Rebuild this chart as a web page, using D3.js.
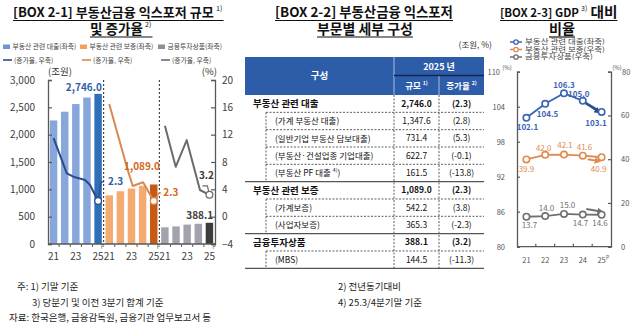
<!DOCTYPE html>
<html><head><meta charset="utf-8">
<script src="https://cdn.jsdelivr.net/npm/d3@7"></script>
<style>
html,body{margin:0;padding:0;background:#fff;}
svg{display:block;font-family:"Noto Sans CJK KR","Noto Sans",sans-serif;}
</style></head><body>
<svg id="c" width="640" height="325"></svg>
<script>
// ---------------- data ----------------
const years = ["21","22","23","24","25"];
const yearTickLabels = ["21","","23","","25"];
const loanValues = [2260, 2420, 2560, 2680, 2746.0];
const guaranteeValues = [890, 965, 1015, 1065, 1089.0];
const investValues = [305, 322, 355, 370, 388.1];
const loanGrowthT = [21, 22.19, 22.78, 23.83, 24.28, 25];
const loanGrowth = [11.5, 6.35, 5.85, 5.37, 4.64, 2.3];
const guaranteeGrowthT = [21, 22.66, 23.11, 24.04, 25];
const guaranteeGrowth = [16.5, 6.83, 4.49, 5.03, 2.3];
const investGrowthT = [21, 21.97, 22.96, 24.15, 25];
const investGrowth = [13.3, 7.3, 11.2, 3.9, 3.2];
const leftTicks1 = [0, 500, 1000, 1500, 2000, 2500, 3000];
const rightTicks1 = [-4, 0, 4, 8, 12, 16, 20];

const tableLabels = ["부동산 관련 대출","(가계 부동산 대출)","(일반기업 부동산 담보대출)","(부동산·건설업종 기업대출)","(부동산 PF 대출 ^4)^)","부동산 관련 보증","(가계보증)","(사업자보증)","금융투자상품","(MBS)"];
const tableLevel = [0,1,1,1,1,0,1,1,0,1];
const tableSize = ["2,746.0","1,347.6","731.4","622.7","161.5","1,089.0","542.2","365.3","388.1","144.5"];
const tableGrowth = ["(2.3)","(2.8)","(5.3)","(-0.1)","(-13.8)","(2.3)","(3.8)","(-2.3)","(3.2)","(-11.3)"];

const gdpYears = ["21","22","23","24","25"];
const loanGdp = [102.1, 104.5, 106.3, 105.0, 103.1];
const guaranteeGdp = [39.9, 42.0, 42.1, 41.6, 40.9];
const investGdp = [13.7, 14.0, 15.0, 14.7, 14.6];
const leftTicks3 = [80, 86, 92, 98, 104, 110];
const rightTicks3 = [0, 20, 40, 60, 80];

// ---------------- helpers ----------------
const svg = d3.select("#c");
svg.append("rect").attr("width",640).attr("height",325).attr("fill","#fff");
const FONT = '"Noto Sans CJK KR","Noto Sans",sans-serif';

function fitW(sel, w){ sel.attr("textLength", w).attr("lengthAdjust","spacingAndGlyphs"); }
function maxFit(sel, w){ sel.each(function(){ if(this.getComputedTextLength() > w){ d3.select(this).attr("textLength", w).attr("lengthAdjust","spacingAndGlyphs"); } }); }
function sizeTo(sel, w, base){
  sel.each(function(){
    const L = this.getComputedTextLength();
    if (L > w){ d3.select(this).attr("font-size", base*w/L); }
    else { d3.select(this).attr("textLength", w).attr("lengthAdjust","spacingAndGlyphs"); }
  });
}
function rich(g, str, x, y, size, attrs){
  const t = g.append("text").attr("x",x).attr("y",y).attr("font-size",size).attr("font-family",FONT);
  Object.entries(attrs||{}).forEach(([k,v])=>t.attr(k,v));
  str.split("^").forEach((p,i)=>{ if(!p) return; const ts=t.append("tspan").text(p); if(i%2){ ts.attr("font-size",size*0.62).attr("baseline-shift","super"); } });
  return t;
}
function titleLine(x0, base, txt, w, sup, after, afterW){
  svg.append("text").attr("x",x0).attr("y",base).attr("font-size",14).attr("font-weight",700).attr("fill","#111").text(txt).call(sizeTo,w,14);
  let end = x0 + w;
  if (sup){ svg.append("text").attr("x",end+2).attr("y",base-6.5).attr("font-size",7).attr("fill","#111").text(sup); end += 2 + 7.5; }
  if (after){ svg.append("text").attr("x",end+2).attr("y",base).attr("font-size",14).attr("font-weight",700).attr("fill","#111").text(after).call(sizeTo,afterW,14); end += 2 + afterW; }
  svg.append("line").attr("x1",x0).attr("x2",end).attr("y1",base+3.5).attr("y2",base+3.5).attr("stroke","#111").attr("stroke-width",1.2);
}

// ---------------- titles ----------------
titleLine(13, 17, "[BOX 2-1] 부동산금융 익스포저 규모", 201, "1)");
titleLine(90, 33.5, "및 증가율", 53, "2)");
titleLine(275, 17, "[BOX 2-2] 부동산금융 익스포저", 178);
titleLine(317, 33.5, "부문별 세부 구성", 96);
titleLine(500, 17, "[BOX 2-3] GDP", 79, "3)", "대비", 27);
titleLine(549, 33.5, "비율", 26);

// ================= CHART 1 =================
const groups = ["loan","guar","inv"];
const gx = d3.scaleBand().domain(groups).range([48,215]);
const bx = d3.scaleBand().domain(years).range([0, gx.bandwidth()]).paddingInner(0.33).paddingOuter(0.165);
const y1L = d3.scaleLinear().domain([0,3000]).range([244,80]);
const y1R = d3.scaleLinear().domain([-4,20]).range([244,80]);
const bw = bx.bandwidth();
const series1 = [
  {key:"loan", bars:loanValues, gT:loanGrowthT, g:loanGrowth, light:"#86a6dc", dark:"#2f6fb7", line:"#2b4c8c", lab:"#2f5fa9"},
  {key:"guar", bars:guaranteeValues, gT:guaranteeGrowthT, g:guaranteeGrowth, light:"#f3ab72", dark:"#c65a12", line:"#dc8750", lab:"#d2691e"},
  {key:"inv",  bars:investValues, gT:investGrowthT, g:investGrowth, light:"#a2a3ad", dark:"#3c3c3c", line:"#6b6b6b", lab:"#3c3c3c"}
];
const c1 = svg.append("g");
series1.forEach(s=>{
  c1.selectAll(null).data(s.bars).enter().append("rect")
    .attr("x",(d,i)=>gx(s.key)+bx(years[i])).attr("width",bw)
    .attr("y",d=>y1L(d)).attr("height",d=>y1L(0)-y1L(d))
    .attr("fill",(d,i)=> i===s.bars.length-1 ? s.dark : s.light);
});
[gx("guar"), gx("inv")].forEach(x=>{
  c1.append("line").attr("x1",x).attr("x2",x).attr("y1",80).attr("y2",244).attr("stroke","#222").attr("stroke-width",1).attr("stroke-dasharray","2,2");
});
function styleAxis(g, size, col){
  g.attr("font-family",FONT).attr("font-size",size);
  g.select(".domain").attr("stroke","#595959").attr("stroke-width",1.3).attr("fill","none");
  g.selectAll(".tick line").attr("stroke","#595959").attr("stroke-width",1.2);
  g.selectAll(".tick text").attr("fill",col);
}
const aL = c1.append("g").attr("transform","translate(48,0)")
  .call(d3.axisLeft(y1L).tickValues(leftTicks1).tickFormat(d3.format(",")).tickSizeInner(-4).tickSizeOuter(-4).tickPadding(13));
styleAxis(aL, 10, "#404040");
const aR = c1.append("g").attr("transform","translate(215,0)")
  .call(d3.axisRight(y1R).tickValues(rightTicks1).tickSizeInner(-4).tickSizeOuter(-4).tickPadding(7));
styleAxis(aR, 10, "#404040");
c1.append("line").attr("x1",48).attr("x2",215).attr("y1",244).attr("y2",244).attr("stroke","#595959").attr("stroke-width",1.3);
groups.forEach(g=>{
  years.forEach((y,i)=>{
    if (i>0){ const xx = gx(g)+bx(y)-bx.step()*bx.paddingInner()/2; c1.append("line").attr("x1",xx).attr("x2",xx).attr("y1",244).attr("y2",247).attr("stroke","#595959"); }
    const lab = yearTickLabels[i];
    if (lab){
      const cx = gx(g)+bx(y)+bw/2;
      c1.append("text").attr("x",cx).attr("y",260).attr("text-anchor","middle").attr("font-size",10).attr("fill","#404040").text(lab);
      if (i===years.length-1) c1.append("text").attr("x",cx+3).attr("y",247.3).attr("font-size",5).attr("fill","#404040").text("p");
    }
  });
});
c1.append("text").attr("x",48).attr("y",75).attr("font-size",9.5).attr("fill","#333").text("(조원)");
c1.append("text").attr("x",217).attr("y",75).attr("text-anchor","end").attr("font-size",9.5).attr("fill","#333").text("(%)");

series1.forEach(s=>{
  const xT = d3.scaleLinear().domain([21,25]).range([gx(s.key)+bx("21")+bw/2, gx(s.key)+bx("25")+bw/2]);
  const pts = s.gT.map((t,i)=>[xT(t), y1R(s.g[i])]);
  c1.append("path").attr("d",d3.line()(pts)).attr("fill","none").attr("stroke",s.line).attr("stroke-width",2).attr("stroke-linejoin","round");
  s.last = pts[pts.length-1];
});
const barLab = [
  {s:0, txt:d3.format(",.1f")(loanValues[4]), dx:0, dy:-3.3},
  {s:1, txt:d3.format(",.1f")(guaranteeValues[4]), dx:2.5, dy:-14},
  {s:2, txt:d3.format(",.1f")(investValues[4]), dx:0, dy:-3.3}
];
barLab.forEach(b=>{
  const s = series1[b.s];
  const xr = gx(s.key)+bx("25")+bw;
  c1.append("text").attr("x",xr+b.dx).attr("y",y1L(s.bars[4])+b.dy).attr("text-anchor","end")
    .attr("font-size",10).attr("font-weight",700).attr("fill",s.lab).text(b.txt);
});
const gLab = [
  {s:0, txt:"2.3", leader:[[3,-19],[6,-19]], tx:10, ty:-15.5},
  {s:1, txt:"2.3", leader:[[5.5,-8],[7.5,-8]], tx:9.5, ty:-4.5},
  {s:2, txt:"3.2", leader:[[-2,-9],[-7,-9]], tx:-10.5, ty:-16}
];
gLab.forEach(g=>{
  const s = series1[g.s]; const [px,py] = s.last;
  c1.append("path").attr("d",d3.line()([[px,py]].concat(g.leader.map(d=>[px+d[0],py+d[1]])))).attr("fill","none").attr("stroke",s.line).attr("stroke-width",1.2);
  c1.append("circle").attr("cx",px).attr("cy",py).attr("r",3.4).attr("fill","#fff").attr("stroke",s.line).attr("stroke-width",1.3);
  c1.append("text").attr("x",px+g.tx).attr("y",py+g.ty).attr("font-size",10).attr("font-weight",700).attr("fill",s.lab).text(g.txt);
});
const leg1 = [
  {x:3, txt:"부동산 관련 대출(좌축)", w:66, c:"#6f95d3", lc:"#2b4c8c"},
  {x:80, txt:"부동산 관련 보증(좌축)", w:68, c:"#f0a060", lc:"#dc8750"},
  {x:158, txt:"금융투자상품(좌축)", w:58, c:"#8e8e98", lc:"#6b6b6b"}
];
leg1.forEach((l,i)=>{
  c1.append("rect").attr("x",l.x).attr("y",44.5).attr("width",7).attr("height",4.5).attr("fill",l.c);
  c1.append("text").attr("x",l.x+9.5).attr("y",49.2).attr("font-size",6.8).attr("fill","#444").text(l.txt).call(maxFit,l.w);
  const lx = [3, 82, 161][i];
  c1.append("line").attr("x1",lx).attr("x2",lx+9).attr("y1",60).attr("y2",60).attr("stroke",l.lc).attr("stroke-width",1.6);
  c1.append("text").attr("x",lx+11).attr("y",62.5).attr("font-size",6.8).attr("fill","#444").text("(증가율, 우축)").call(maxFit,46);
});

// ================= CHART 2 (table) =================
const c2 = svg.append("g");
const TX0 = 245, TX1 = 394, TX2 = 439, TX3 = 484, TTOP = 57, THB = 95;
const rowH = (268.3 - THB) / tableLabels.length;
c2.append("text").attr("x",492).attr("y",47.5).attr("text-anchor","end").attr("font-size",8.5).attr("fill","#333").text("(조원, %)");
c2.append("rect").attr("x",TX0).attr("y",TTOP).attr("width",TX3-TX0).attr("height",THB-TTOP).attr("fill","#2d5ca9");
c2.append("line").attr("x1",TX1).attr("x2",TX1).attr("y1",TTOP).attr("y2",THB).attr("stroke","#c9d6ee").attr("stroke-width",0.8);
c2.append("line").attr("x1",TX2).attr("x2",TX2).attr("y1",75.5).attr("y2",THB).attr("stroke","#c9d6ee").attr("stroke-width",0.8);
c2.append("line").attr("x1",TX1).attr("x2",TX3).attr("y1",75.5).attr("y2",75.5).attr("stroke","#14264d").attr("stroke-width",1.6);
rich(c2, "구성", (TX0+TX1)/2, 79, 9.5, {"text-anchor":"middle","fill":"#fff","font-weight":600});
rich(c2, "2025 년", (TX1+TX3)/2, 69.5, 9, {"text-anchor":"middle","fill":"#fff","font-weight":600});
rich(c2, "규모 ^1)^", (TX1+TX2)/2, 88.5, 8.5, {"text-anchor":"middle","fill":"#fff","font-weight":700});
rich(c2, "증가율 ^2)^", (TX2+TX3)/2, 88.5, 8.5, {"text-anchor":"middle","fill":"#fff","font-weight":700});
tableLabels.forEach((lab,i)=>{
  const cy = THB + rowH*(i+0.5);
  const bold = tableLevel[i]===0;
  rich(c2, lab, bold?253:275, cy+3.3, bold?9.5:8.5, {"fill":"#111","font-weight":bold?700:400});
  c2.append("text").attr("x",(TX1+TX2)/2).attr("y",cy+3.1).attr("text-anchor","middle").attr("font-size",8.5).attr("font-weight",bold?700:400).attr("fill","#111").text(tableSize[i]).call(maxFit,40);
  c2.append("text").attr("x",(TX2+TX3)/2).attr("y",cy+3.1).attr("text-anchor","middle").attr("font-size",8.5).attr("font-weight",bold?700:400).attr("fill","#111").text(tableGrowth[i]).call(maxFit,40);
  const yb = THB + rowH*(i+1);
  if (i < tableLabels.length-1){
    if (tableLevel[i+1]===0) c2.append("line").attr("x1",TX0).attr("x2",TX3).attr("y1",yb).attr("y2",yb).attr("stroke","#555").attr("stroke-width",1.2);
    else c2.append("line").attr("x1",266).attr("x2",TX3).attr("y1",yb).attr("y2",yb).attr("stroke","#333").attr("stroke-width",0.8).attr("stroke-dasharray","2,1.5");
  } else {
    c2.append("line").attr("x1",TX0).attr("x2",TX3).attr("y1",yb).attr("y2",yb).attr("stroke","#555").attr("stroke-width",1.3);
  }
  if (!bold){
    c2.append("line").attr("x1",266).attr("x2",266).attr("y1",THB+rowH*i).attr("y2",yb).attr("stroke","#333").attr("stroke-width",0.8).attr("stroke-dasharray","2,1.5");
  }
});
[TX1, TX2].forEach(x=>c2.append("line").attr("x1",x).attr("x2",x).attr("y1",THB).attr("y2",268.3).attr("stroke","#333").attr("stroke-width",0.8).attr("stroke-dasharray","2,1.5"));

// ================= CHART 3 =================
const c3 = svg.append("g");
const x3 = d3.scaleBand().domain(gdpYears).range([517,611]);
const y3L = d3.scaleLinear().domain([80,110]).range([246.7,71.7]);
const y3R = d3.scaleLinear().domain([0,80]).range([246.7,71.7]);
const a3L = c3.append("g").attr("transform","translate(517,0)")
  .call(d3.axisLeft(y3L).tickValues(leftTicks3).tickSizeInner(-3).tickSizeOuter(-3).tickPadding(12));
styleAxis(a3L, 7.5, "#555");
a3L.selectAll(".tick text").filter(d=>d===110).attr("x",-17);
const a3R = c3.append("g").attr("transform","translate(611,0)")
  .call(d3.axisRight(y3R).tickValues(rightTicks3).tickSizeInner(-3).tickSizeOuter(-3).tickPadding(10));
styleAxis(a3R, 7.5, "#555");
a3R.selectAll(".tick text").filter(d=>d===80).attr("x",11);
c3.append("text").attr("x",507).attr("y",69.5).attr("text-anchor","middle").attr("font-size",6).attr("fill","#555").text("(%)");
c3.append("text").attr("x",617).attr("y",69.5).attr("text-anchor","middle").attr("font-size",6).attr("fill","#555").text("(%)");
c3.append("line").attr("x1",517).attr("x2",611).attr("y1",246.7).attr("y2",246.7).attr("stroke","#595959").attr("stroke-width",1.3);
gdpYears.forEach((y,i)=>{
  if (i>0){ const xx = x3(y); c3.append("line").attr("x1",xx).attr("x2",xx).attr("y1",246.7).attr("y2",243.7).attr("stroke","#595959").attr("stroke-width",1.2); }
  const cx = x3(y)+x3.bandwidth()/2;
  c3.append("text").attr("x",cx).attr("y",263).attr("text-anchor","middle").attr("font-size",7.5).attr("fill","#555").text(y);
  if (i===gdpYears.length-1) c3.append("text").attr("x",cx+4.5).attr("y",257.5).attr("font-size",5).attr("fill","#555").text("p");
});
const defs = svg.append("defs");
const series3 = [
  {vals:loanGdp, y:y3L, c:"#3a64b5", bold:true, offs:[[1,9],[2.3,10],[0,-8.3],[-4,-6.6],[-5.6,11.3]], arrow:[[3,2.5],[-3.5,-0.5]], ac:"#2b4c8c"},
  {vals:guaranteeGdp, y:y3R, c:"#e08a4e", bold:false, offs:[[0,10],[-1.5,-6.8],[1,-9.6],[1.7,-8.4],[-3,12]], arrow:[[5,3.6],[-3.6,3.8]], ac:"#e08a4e"},
  {vals:investGdp, y:y3R, c:"#707070", bold:false, offs:[[3,8.3],[1.3,-7.8],[3.5,-9],[-2.3,8.8],[-1.6,8.5]], arrow:[[3.5,-5.5],[-1,-3.3]], ac:"#707070"}
];
series3.forEach((s,k)=>{
  const pts = s.vals.map((v,i)=>[x3(gdpYears[i])+x3.bandwidth()/2, s.y(v)]);
  c3.append("path").attr("d",d3.line()(pts)).attr("fill","none").attr("stroke",s.c).attr("stroke-width",1.8);
  defs.append("marker").attr("id","ah"+k).attr("viewBox","0 0 10 10").attr("refX",5).attr("refY",5).attr("markerWidth",3.2).attr("markerHeight",3.2).attr("orient","auto")
    .append("path").attr("d","M0,0L10,5L0,10Z").attr("fill",s.ac);
  const p4 = pts[3], p5 = pts[4];
  c3.append("line").attr("x1",p4[0]+s.arrow[0][0]).attr("y1",p4[1]+s.arrow[0][1]).attr("x2",p5[0]+s.arrow[1][0]).attr("y2",p5[1]+s.arrow[1][1])
    .attr("stroke",s.ac).attr("stroke-width",2).attr("marker-end","url(#ah"+k+")");
  c3.selectAll(null).data(pts).enter().append("circle").attr("cx",d=>d[0]).attr("cy",d=>d[1]).attr("r",3.2).attr("fill","#fff").attr("stroke",s.c).attr("stroke-width",1.6);
  pts.forEach((p,i)=>{
    c3.append("text").attr("x",p[0]+s.offs[i][0]).attr("y",p[1]+s.offs[i][1]+3).attr("text-anchor","middle")
      .attr("font-size",8).attr("font-weight",s.bold?700:400).attr("fill",s.c).text(d3.format(".1f")(s.vals[i]));
  });
});
// legend chart 3
const leg3 = [
  {txt:"부동산 관련 대출(좌축)", c:"#3a64b5", w:80},
  {txt:"부동산 관련 보증(우축)", c:"#e08a4e", w:80},
  {txt:"금융투자상품(우축)", c:"#707070", w:68}
];
const lg3 = svg.append("g");
leg3.forEach((l,i)=>{
  const ly = 42 + i*7.5;
  lg3.append("line").attr("x1",510).attr("x2",522).attr("y1",ly).attr("y2",ly).attr("stroke",l.c).attr("stroke-width",1.5);
  lg3.append("circle").attr("cx",516).attr("cy",ly).attr("r",2.2).attr("fill","#fff").attr("stroke",l.c).attr("stroke-width",1.3);
  lg3.append("text").attr("x",525).attr("y",ly+2.4).attr("text-anchor","start")
    .attr("font-size",6.6).attr("fill","#444").text(l.txt).call(fitW,l.w);
});

// ================= footnotes =================
const notes = [
  {x:17, y:290, t:"주: 1) 기말 기준"},
  {x:32, y:305.5, t:"3) 당분기 및 이전 3분기 합계 기준"},
  {x:9, y:321, t:"자료: 한국은행, 금융감독원, 금융기관 업무보고서 등"},
  {x:338, y:290, t:"2) 전년동기대비"},
  {x:338, y:305.5, t:"4) 25.3/4분기말 기준"}
];
notes.forEach(n=>svg.append("text").attr("x",n.x).attr("y",n.y).attr("font-size",9.5).attr("fill","#222").text(n.t));
</script>
</body></html>
